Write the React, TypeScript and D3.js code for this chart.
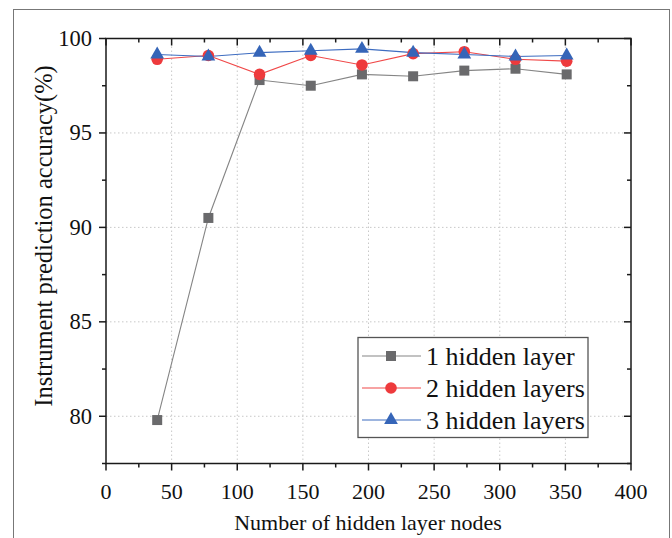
import React from "react";
import * as d3 from "d3";

const xValues = [39, 78, 117, 156, 195, 234, 273, 312, 351];
const series1 = [79.8, 90.5, 97.8, 97.5, 98.1, 98.0, 98.3, 98.4, 98.1];
const series2 = [98.9, 99.1, 98.1, 99.1, 98.6, 99.2, 99.3, 98.9, 98.8];
const series3 = [99.15, 99.05, 99.25, 99.35, 99.45, 99.25, 99.15, 99.05, 99.1];
const seriesNames = ["1 hidden layer", "2 hidden layers", "3 hidden layers"];
const xTicks = [0, 50, 100, 150, 200, 250, 300, 350, 400];
const yTicks = [80, 85, 90, 95, 100];

const W = 672, H = 538;
const L = 106, R = 631, T = 38.5, B = 463.5;
const FONT = "'Liberation Serif', 'Times New Roman', Times, serif";

const colors = { line: ["#858585", "#f04848", "#3d6cc0"], mark: ["#6a6a6c", "#ee3a3c", "#3565b8"] };

function Marker({ kind, x, y, color }: { kind: number; x: number; y: number; color: string }) {
  if (kind === 0) return <rect x={x - 5} y={y - 5} width={10} height={10} fill={color} />;
  if (kind === 1) return <circle cx={x} cy={y} r={5.8} fill={color} />;
  const p = d3.symbol().type(d3.symbolTriangle).size(82)();
  return <path d={p || ""} transform={`translate(${x},${y})`} fill={color} />;
}

export default function App() {
  const x = d3.scaleLinear().domain([0, 400]).range([L, R]);
  const y = d3.scaleLinear().domain([77.5, 100]).range([B, T]);
  const all = [series1, series2, series3];
  const line = d3.line<number>().x((_, i) => x(xValues[i])).y((d) => y(d));
  const xMinor = d3.range(25, 400, 50);
  const yMinor = [77.5, 82.5, 87.5, 92.5, 97.5];
  const ax = "#1a1a1a";
  return (
    <svg width={W} height={H} style={{ position: "absolute", left: 0, top: 0, background: "#fff" }}>
      <rect x={13.5} y={9.5} width={656} height={600} fill="none" stroke="#777" strokeWidth={1} />
      {xTicks.slice(1, -1).map((t) => (
        <line key={"gx" + t} x1={x(t)} x2={x(t)} y1={T} y2={B} stroke="#c8c8c8" strokeDasharray="1.5,2.5" strokeWidth={1} />
      ))}
      {yTicks.slice(0, -1).map((t) => (
        <line key={"gy" + t} x1={L} x2={R} y1={y(t)} y2={y(t)} stroke="#c8c8c8" strokeDasharray="1.5,2.5" strokeWidth={1} />
      ))}
      {all.map((s, k) => (
        <path key={"l" + k} d={line(s) || ""} fill="none" stroke={colors.line[k]} strokeWidth={1.1} />
      ))}
      {all.map((s, k) => s.map((v, i) => <Marker key={k + "-" + i} kind={k} x={x(xValues[i])} y={y(v)} color={colors.mark[k]} />))}
      <rect x={L} y={T} width={R - L} height={B - T} fill="none" stroke={ax} strokeWidth={1.5} />
      {xTicks.map((t) => (
        <React.Fragment key={"xt" + t}>
          <line x1={x(t)} x2={x(t)} y1={B} y2={B + 7} stroke={ax} strokeWidth={1.5} />
          <line x1={x(t)} x2={x(t)} y1={T} y2={T + 7} stroke={ax} strokeWidth={1.5} />
          <text x={x(t)} y={498.5} textAnchor="middle" fontSize={22} fill="#111" fontFamily={FONT}>{String(t)}</text>
        </React.Fragment>
      ))}
      {xMinor.map((t) => (
        <React.Fragment key={"xm" + t}>
          <line x1={x(t)} x2={x(t)} y1={B} y2={B + 4} stroke={ax} strokeWidth={1.5} />
          <line x1={x(t)} x2={x(t)} y1={T} y2={T + 4} stroke={ax} strokeWidth={1.5} />
        </React.Fragment>
      ))}
      {yTicks.map((t) => (
        <React.Fragment key={"yt" + t}>
          <line x1={L - 7} x2={L} y1={y(t)} y2={y(t)} stroke={ax} strokeWidth={1.5} />
          <line x1={R - 7} x2={R} y1={y(t)} y2={y(t)} stroke={ax} strokeWidth={1.5} />
          <text x={92} y={y(t) + 7.5} textAnchor="end" fontSize={22.5} fill="#111" fontFamily={FONT}>{String(t)}</text>
        </React.Fragment>
      ))}
      {yMinor.map((t) => (
        <React.Fragment key={"ym" + t}>
          <line x1={L - 4} x2={L} y1={y(t)} y2={y(t)} stroke={ax} strokeWidth={1.5} />
          <line x1={R - 4} x2={R} y1={y(t)} y2={y(t)} stroke={ax} strokeWidth={1.5} />
        </React.Fragment>
      ))}
      <text x={368} y={530} textAnchor="middle" fontSize={22} fill="#111" fontFamily={FONT}>Number of hidden layer nodes</text>
      <text transform={`translate(52,236) rotate(-90)`} textAnchor="middle" fontSize={24.5} fill="#111" fontFamily={FONT}>Instrument prediction accuracy(%)</text>
      <rect x={358} y={337.5} width={230} height={100} fill="#fff" stroke="#555" strokeWidth={1.3} />
      {seriesNames.map((n, k) => {
        const ly = 356 + k * 32;
        return (
          <React.Fragment key={"lg" + k}>
            <line x1={362} x2={421} y1={ly} y2={ly} stroke={colors.line[k]} strokeWidth={1.1} />
            <Marker kind={k} x={391} y={ly} color={colors.mark[k]} />
            <text x={426} y={ly + 9} fontSize={26} fill="#111" fontFamily={FONT}>{n}</text>
          </React.Fragment>
        );
      })}
    </svg>
  );
}
